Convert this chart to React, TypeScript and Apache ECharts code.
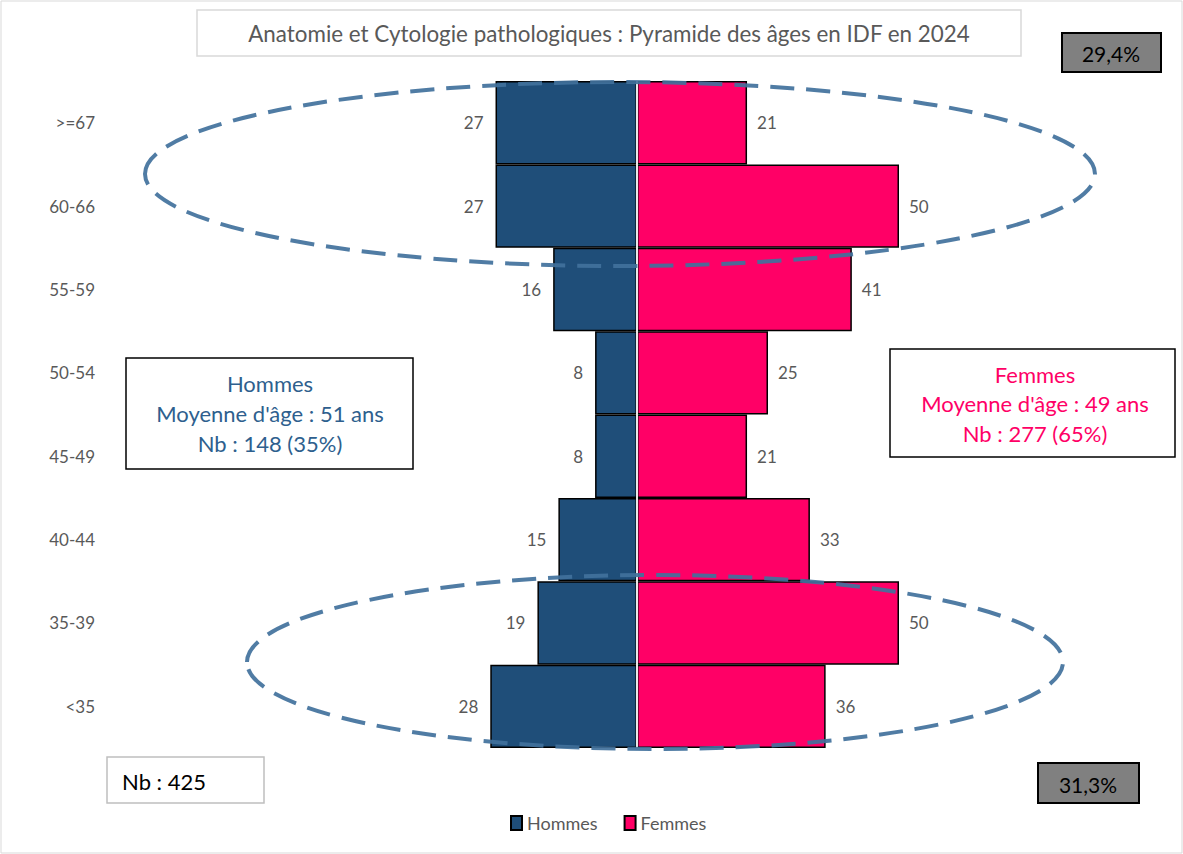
import React, { useEffect, useRef } from "react";
import * as echarts from "echarts";

const categories = ["<35", "35-39", "40-44", "45-49", "50-54", "55-59", "60-66", ">=67"];
const hommes = [28, 19, 15, 8, 8, 16, 27, 27];
const femmes = [36, 50, 33, 21, 25, 41, 50, 21];
const titleText = "Anatomie et Cytologie pathologiques : Pyramide des âges en IDF en 2024";
const hommesBox = ["Hommes", "Moyenne d'âge : 51 ans", "Nb : 148 (35%)"];
const femmesBox = ["Femmes", "Moyenne d'âge : 49 ans", "Nb : 277 (65%)"];
const topPct = "29,4%";
const bottomPct = "31,3%";
const totalText = "Nb : 425";

const FONT = "Lato, 'Open Sans', sans-serif";

export default function App() {
  const ref = useRef<HTMLDivElement>(null);
  useEffect(() => {
    if (!ref.current) return;
    const chart = echarts.init(ref.current, null, { renderer: "svg" });
    const ellipseStyle = {
      fill: "none",
      stroke: "rgba(65,113,156,0.92)",
      lineWidth: 4,
      lineDash: [24, 12],
    };
    chart.setOption({
      animation: false,
      textStyle: { fontFamily: FONT },
      grid: { left: 113, right: 22, top: 81, bottom: 106, containLabel: false },
      xAxis: {
        type: "value",
        min: -100,
        max: 100,
        show: false,
      },
      yAxis: {
        type: "category",
        data: categories,
        axisLine: { show: false },
        axisTick: { show: false },
        splitLine: { show: false },
        axisLabel: { color: "#595959", fontSize: 17, margin: 18, fontFamily: FONT },
      },
      legend: {
        bottom: 17,
        left: 505,
        itemWidth: 11,
        itemHeight: 14,
        itemGap: 26,
        icon: "rect",
        textStyle: { color: "#595959", fontSize: 18, fontFamily: FONT },
        data: ["Hommes", "Femmes"],
      },
      series: [
        {
          name: "Hommes",
          type: "bar",
          data: hommes.map((v) => -v),
          barCategoryGap: "0%",
          barGap: "-100%",
          itemStyle: { color: "#1F4E79", borderColor: "#000", borderWidth: 1.5 },
          label: {
            show: true,
            position: "left",
            distance: 12,
            color: "#595959",
            fontSize: 17,
            fontFamily: FONT,
            formatter: (p: any) => String(Math.abs(p.value)),
          },
        },
        {
          name: "Femmes",
          type: "bar",
          data: femmes,
          barCategoryGap: "0%",
          barGap: "-100%",
          itemStyle: { color: "#FF0066", borderColor: "#000", borderWidth: 1.5 },
          label: {
            show: true,
            position: "right",
            distance: 10,
            color: "#595959",
            fontSize: 17,
            fontFamily: FONT,
          },
          markLine: {
            silent: true,
            symbol: "none",
            label: { show: false },
            lineStyle: { color: "#e8e8e8", width: 2, type: "solid" },
            data: [{ xAxis: 0 }],
          },
        },
      ],
      graphic: [
        {
          type: "rect",
          shape: { x: 1, y: 1, width: 1181, height: 852 },
          style: { fill: "none", stroke: "#d9d9d9", lineWidth: 1 },
          z: 0,
        },
        {
          type: "rect",
          shape: { x: 197, y: 10, width: 824, height: 46 },
          style: { fill: "#fff", stroke: "#d9d9d9", lineWidth: 1.5 },
        },
        {
          type: "text",
          x: 609,
          y: 33,
          style: {
            text: titleText,
            fill: "#595959",
            fontSize: 22.4,
            fontFamily: FONT,
            align: "center",
            verticalAlign: "middle",
          },
        },
        {
          type: "rect",
          shape: { x: 1062, y: 33, width: 99, height: 39 },
          style: { fill: "#808080", stroke: "#000", lineWidth: 2 },
        },
        {
          type: "text",
          x: 1111,
          y: 53,
          style: { text: topPct, fill: "#000", fontSize: 21, fontFamily: FONT, align: "center", verticalAlign: "middle" },
        },
        {
          type: "rect",
          shape: { x: 1038, y: 763, width: 101, height: 40 },
          style: { fill: "#808080", stroke: "#000", lineWidth: 2 },
        },
        {
          type: "text",
          x: 1088,
          y: 784,
          style: { text: bottomPct, fill: "#000", fontSize: 21, fontFamily: FONT, align: "center", verticalAlign: "middle" },
        },
        {
          type: "rect",
          shape: { x: 107, y: 757, width: 157, height: 46 },
          style: { fill: "#fff", stroke: "#bfbfbf", lineWidth: 1.5 },
        },
        {
          type: "text",
          x: 122,
          y: 781,
          style: { text: totalText, fill: "#000", fontSize: 22, fontFamily: FONT, align: "left", verticalAlign: "middle" },
        },
        {
          type: "rect",
          shape: { x: 126, y: 358, width: 287, height: 111 },
          style: { fill: "#fff", stroke: "#000", lineWidth: 1.5 },
        },
        ...hommesBox.map((t, i) => ({
          type: "text",
          x: 270,
          y: 383 + i * 30,
          style: { text: t, fill: "#2E5F8E", fontSize: 22, fontFamily: FONT, align: "center", verticalAlign: "middle" },
        })),
        {
          type: "rect",
          shape: { x: 890, y: 349, width: 285, height: 108 },
          style: { fill: "#fff", stroke: "#000", lineWidth: 1.5 },
        },
        ...femmesBox.map((t, i) => ({
          type: "text",
          x: 1035,
          y: 374 + i * 29.5,
          style: { text: t, fill: "#FF0066", fontSize: 22, fontFamily: FONT, align: "center", verticalAlign: "middle" },
        })),
        {
          type: "ellipse",
          shape: { cx: 620, cy: 174, rx: 475, ry: 92 },
          style: ellipseStyle,
          z: 100,
        },
        {
          type: "ellipse",
          shape: { cx: 655, cy: 662, rx: 408, ry: 87 },
          style: ellipseStyle,
          z: 100,
        },
      ],
    });
    return () => chart.dispose();
  }, []);
  return (
    <div
      ref={ref}
      style={{ position: "absolute", left: 0, top: 0, width: 1183, height: 854, background: "#fff" }}
    />
  );
}
